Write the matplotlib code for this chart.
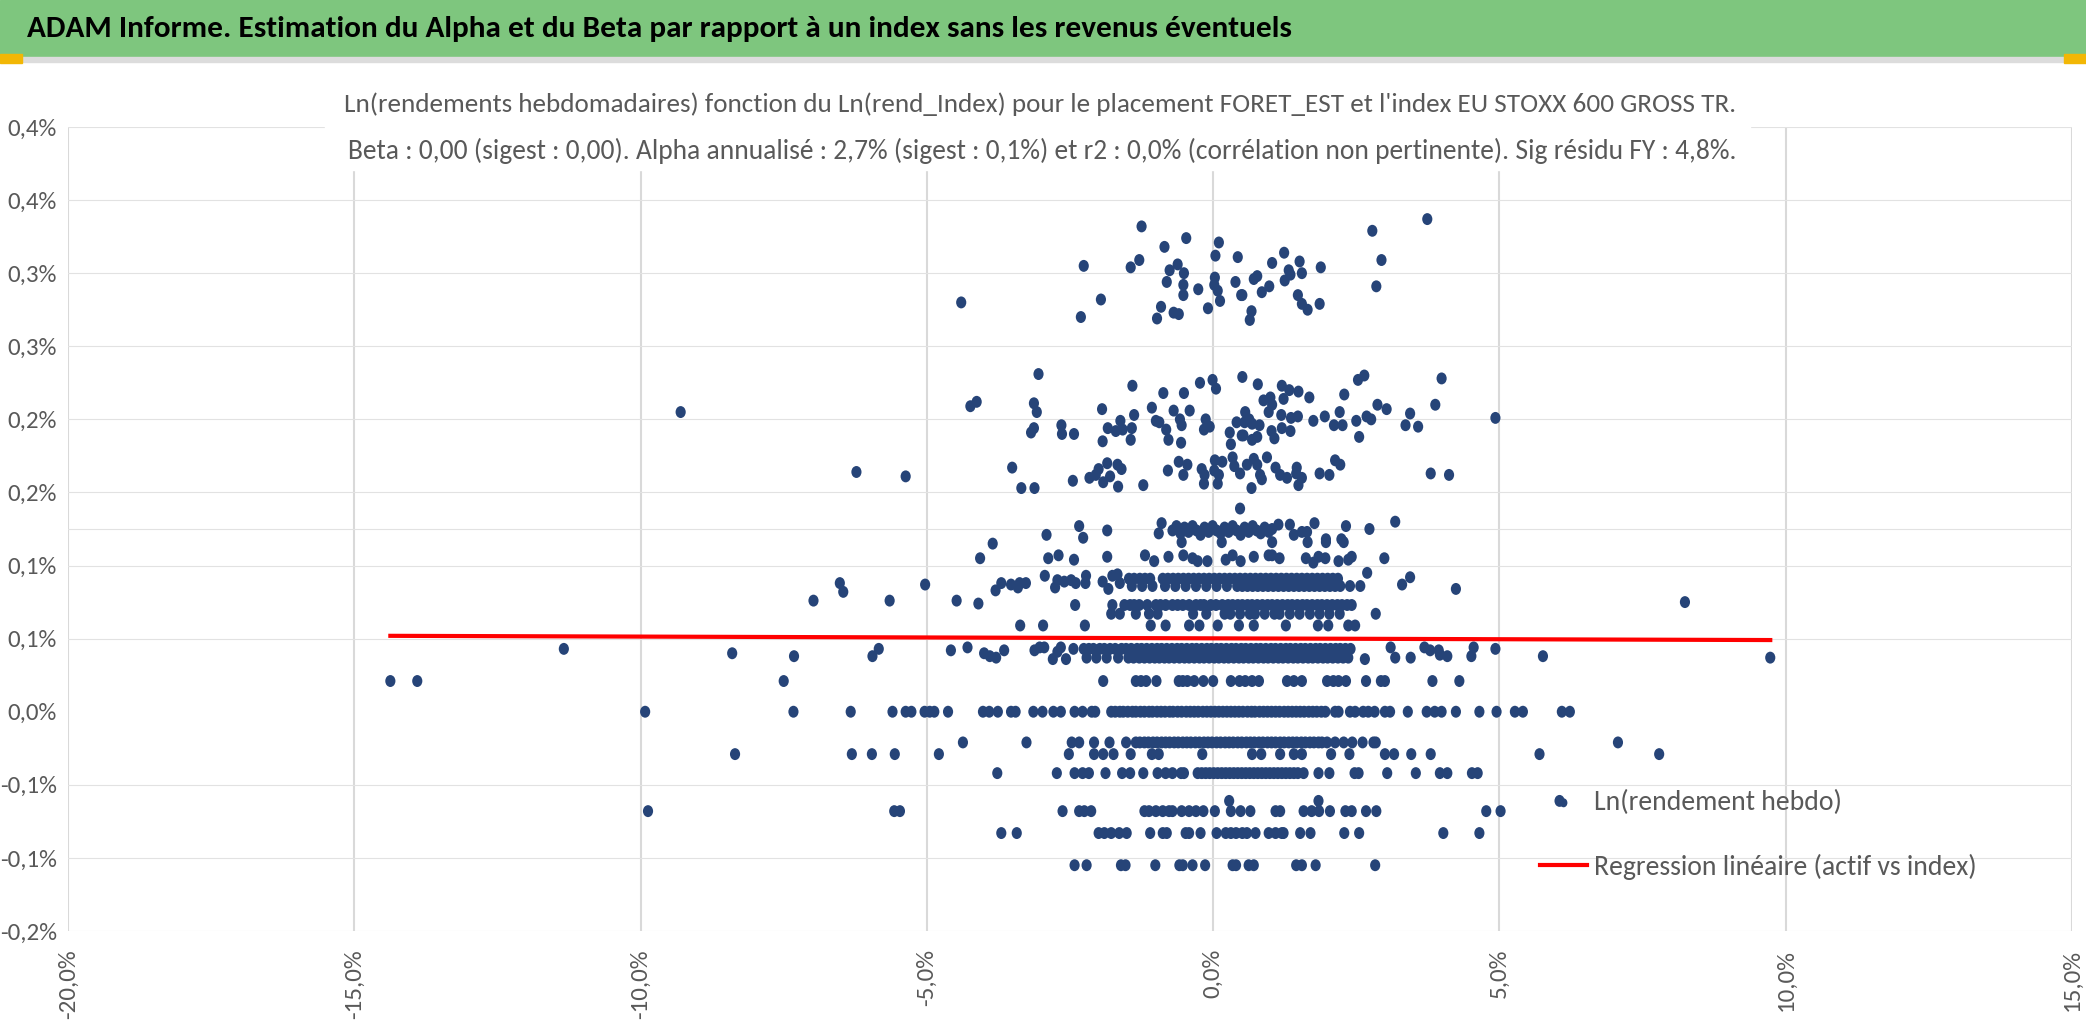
import matplotlib
matplotlib.use('Agg')
import matplotlib.pyplot as plt
from matplotlib import font_manager
from matplotlib.patches import Rectangle
from matplotlib.path import Path

W, H = 2086, 1035

# weekly ln returns (y, in %) against index returns (x, in %), read per row
row_000_x = [-9.92, -7.33, -6.33, -5.60, -5.37, -5.27, -5.04, -4.95, -4.87, -4.63, -4.02, -3.91,
             -3.76, -3.53, -3.45, -3.14, -2.98, -2.79, -2.66, -2.42, -2.28, -2.12, -2.06,
             -1.78, -1.71, -1.63, -1.57, -1.49, -1.41, -1.35, -1.27, -1.20, -1.12, -1.06, -0.98,
             -0.91, -0.84, -0.76, -0.70, -0.62, -0.55, -0.47, -0.40, -0.33, -0.26, -0.18, -0.11,
             -0.04, 0.03, 0.10, 0.17, 0.24, 0.31, 0.38, 0.45, 0.52, 0.60, 0.67, 0.73, 0.81, 0.88,
             0.95, 1.02, 1.09, 1.16, 1.24, 1.31, 1.38, 1.45, 1.52, 1.59, 1.67, 1.74, 1.81, 1.89,
             1.96, 2.13, 2.19, 2.39, 2.48, 2.62, 2.71, 2.82, 3.00, 3.09, 3.40, 3.73, 3.87, 3.99,
             4.24, 4.65, 4.95, 5.27, 5.41, 6.09, 6.23]

row_p021_x = [-14.37, -13.90, -7.50, -1.92, -1.35, -1.26, -1.17, -0.99, -0.60, -0.53, -0.45,
              -0.33, -0.17, 0.0, 0.31, 0.46, 0.56, 0.68, 0.80, 1.29, 1.41, 1.55, 1.99, 2.10, 2.19,
              2.32, 2.67, 2.93, 3.00, 3.83, 4.30]

row_p043_x = [-2.26, -2.17, -2.09, -1.98, -1.90, -1.80, -1.71, -1.60, -1.52, -1.43, -1.33, -1.25,
              -1.16, -1.07, -0.98, -0.90, -0.81, -0.72, -0.63, -0.55, -0.46, -0.37, -0.29, -0.20,
              -0.11, -0.03, 0.06, 0.14, 0.23, 0.32, 0.40, 0.49, 0.57, 0.66, 0.75, 0.83, 0.92, 1.01,
              1.09, 1.18, 1.27, 1.35, 1.44, 1.53, 1.61, 1.70, 1.79, 1.87, 1.96, 2.05, 2.14, 2.22,
              2.31, 2.40]
row_p037_x = [-2.21, -2.04, -1.86, -1.66, -1.48, -1.39, -1.29, -1.20, -1.11, -1.02, -0.94, -0.85,
              -0.77, -0.68, -0.59, -0.50, -0.42, -0.33, -0.24, -0.16, -0.07, 0.02, 0.10, 0.19,
              0.27, 0.36, 0.45, 0.53, 0.62, 0.70, 0.79, 0.88, 0.96, 1.05, 1.14, 1.22, 1.31, 1.40,
              1.48, 1.57, 1.66, 1.74, 1.83, 1.92, 2.00, 2.09, 2.18, 2.27, 2.36]
near_040_x = [-11.34, -8.40, -7.32, -5.95, -5.84, -4.58, -4.29, -4.00, -3.90, -3.79, -3.65, -3.12,
              -3.03, -2.95, -2.80, -2.72, -2.66, -2.57, -2.44, 2.65, 3.10, 3.18, 3.45, 3.69, 3.79,
              3.94, 3.96, 4.09, 4.51, 4.55, 4.93, 5.76, 9.73]
near_040_y = [0.043, 0.040, 0.038, 0.038, 0.043, 0.042, 0.044, 0.040, 0.038, 0.037, 0.042, 0.042,
              0.044, 0.044, 0.036, 0.041, 0.044, 0.036, 0.043, 0.036, 0.044, 0.037, 0.037, 0.044,
              0.042, 0.042, 0.039, 0.038, 0.038, 0.044, 0.043, 0.038, 0.037]

row_p059_x = [-3.37, -2.97, -2.24, -1.09, -0.83, -0.42, -0.24, 0.08, 0.45, 0.71, 1.27, 1.83, 2.01,
              2.36, 2.48]

row_p073_x = [-1.76, -1.55, -1.45, -1.38, -1.29, -1.15, -1.00, -0.92, -0.83, -0.71, -0.62, -0.53,
              -0.42, -0.30, -0.22, -0.16, -0.04, 0.05, 0.16, 0.26, 0.34, 0.43, 0.51, 0.60, 0.68,
              0.77, 0.86, 0.95, 1.03, 1.12, 1.21, 1.30, 1.38, 1.47, 1.56, 1.64, 1.73, 1.82, 1.90,
              1.99, 2.08, 2.17, 2.25, 2.34, 2.42]
row_p067_x = [-1.78, -1.63, -1.35, -1.12, -0.97, -0.35, -0.12, 0.20, 0.30, 0.47, 0.64, 0.73, 0.90,
              1.07, 1.16, 1.34, 1.51, 1.69, 1.86, 2.03, 2.21, 2.84]
near_075_x = [-6.98, -5.65, -4.48, -4.10, -2.41, 8.24]
near_075_y = [0.076, 0.076, 0.076, 0.074, 0.073, 0.075]

row_p091_x = [-1.47, -1.38, -1.28, -1.19, -1.10, -0.88, -0.79, -0.70, -0.61, -0.52, -0.43, -0.34,
              -0.25, -0.16, -0.07, 0.02, 0.11, 0.20, 0.29, 0.38, 0.47, 0.56, 0.65, 0.74, 0.83,
              0.92, 1.01, 1.10, 1.19, 1.28, 1.37, 1.46, 1.55, 1.64, 1.73, 1.82, 1.91, 2.00, 2.09,
              2.18]
row_p086_x = [-1.42, -1.24, -1.06, -0.84, -0.66, -0.48, -0.30, -0.12, 0.06, 0.24, 0.42, 0.51, 0.60,
              0.69, 0.78, 0.87, 0.96, 1.05, 1.14, 1.23, 1.32, 1.41, 1.50, 1.59, 1.68, 1.77, 1.86,
              1.95, 2.04, 2.13, 2.22]
near_088_x = [-6.52, -6.46, -5.03, -3.80, -3.70, -3.53, -3.41, -3.38, -3.27, -2.94, -2.76, -2.72,
              -2.60, -2.48, -2.40, -2.22, -2.23, -1.93, -1.83, -1.76, -1.67, -1.63, 2.39, 2.57,
              2.69, 3.30, 3.44, 4.24]
near_088_y = [0.088, 0.082, 0.087, 0.083, 0.088, 0.087, 0.085, 0.088, 0.088, 0.093, 0.085, 0.090,
              0.089, 0.090, 0.088, 0.093, 0.088, 0.089, 0.084, 0.093, 0.094, 0.088, 0.086, 0.086,
              0.095, 0.087, 0.092, 0.084]

near_105_x = [-4.07, -2.88, -2.70, -2.43, -1.85, -1.19, -1.03, -0.78, -0.52, -0.36, -0.27, -0.10,
              0.22, 0.34, 0.48, 0.71, 0.97, 1.03, 1.16, 1.62, 1.75, 1.84, 1.96, 2.19, 2.36, 2.42,
              2.99, -3.85, -0.55, 0.15, 1.03, 1.65, 1.97, 2.28]
near_105_y = [0.105, 0.105, 0.107, 0.104, 0.106, 0.107, 0.103, 0.106, 0.107, 0.105, 0.103, 0.103,
              0.104, 0.107, 0.103, 0.106, 0.107, 0.107, 0.105, 0.105, 0.102, 0.106, 0.105, 0.103,
              0.104, 0.106, 0.105, 0.115, 0.116, 0.116, 0.116, 0.116, 0.116, 0.116]

near_125_x = [-2.91, -2.34, -2.27, -1.85, -0.95, -0.90, 0.47, 1.14, 1.34, 1.41, 1.55, 1.64, 1.77,
              1.97, 2.24, 2.32, 2.73, 3.18,
              -0.71, -0.64, -0.57, -0.50, -0.43, -0.36, -0.29, -0.22, -0.15, -0.08, -0.01, 0.06,
              0.13, 0.20, 0.27, 0.34, 0.41, 0.48, 0.55, 0.62, 0.69, 0.76, 0.83, 0.90, 0.97, 1.03]
near_125_y = [0.121, 0.127, 0.119, 0.124, 0.122, 0.129, 0.139, 0.128, 0.128, 0.121, 0.123, 0.123,
              0.129, 0.118, 0.118, 0.127, 0.125, 0.130,
              0.124, 0.127, 0.122, 0.126, 0.123, 0.127, 0.124, 0.121, 0.126, 0.123, 0.127, 0.124,
              0.122, 0.126, 0.123, 0.127, 0.124, 0.121, 0.126, 0.123, 0.127, 0.124, 0.122, 0.126,
              0.123, 0.125]

band_165_x = [-6.23, -3.51, -3.35, -3.12, -5.37, -2.45, -2.16, -2.05, -2.00, -1.92, -1.85, -1.80,
              -1.67, -1.60, -1.66, -1.22, -0.79, -0.60, -0.45, -0.52, -0.20, -0.15, -0.16, 0.03,
              0.02, 0.10, 0.08, 0.34, 0.37, 0.47, 0.16, 0.59, 0.71, 0.77, 0.82, 0.85, 0.94, 1.09,
              1.17, 1.29, 1.46, 1.45, 1.55, 1.49, 0.67, 1.86, 2.03, 2.13, 2.22, 3.80, 4.12]
band_165_y = [0.164, 0.167, 0.153, 0.153, 0.161, 0.158, 0.160, 0.162, 0.166, 0.157, 0.170, 0.161,
              0.169, 0.166, 0.154, 0.155, 0.165, 0.171, 0.169, 0.162, 0.166, 0.162, 0.156, 0.172,
              0.165, 0.162, 0.156, 0.174, 0.168, 0.163, 0.171, 0.169, 0.173, 0.169, 0.162, 0.159,
              0.174, 0.167, 0.162, 0.160, 0.167, 0.163, 0.160, 0.155, 0.153, 0.163, 0.162, 0.172,
              0.169, 0.163, 0.162]

band_205_x = [-9.30, -3.05, -1.41, -0.23, -0.01, 0.05, 0.51, -0.87, -0.51, -4.24, -4.13, -3.13,
              -3.08, -1.94, -1.38, -1.07, -0.69, -0.41, -1.62, -1.00, -0.94, -0.58, -0.55, -0.13,
              -0.16, -0.06, 0.41, -2.65, -2.64, -2.43, -3.18, -3.13, -1.84, -1.70, -1.58, -1.42,
              -0.82, -1.44, -1.93, -0.78, -0.56, 0.29, 0.31, 0.50, 0.78, 1.20, 1.33, 1.49, 1.68,
              0.88, 1.00, 1.03, 0.97, 1.23, 2.29, 2.53, 2.64, 3.99, 3.88, 2.87, 3.03, 3.44, 3.36,
              3.58, 4.93, 0.56, 0.63, 0.55, 0.68, 0.81, 0.53, 0.68, 0.77, 1.02, 1.07, 1.20, 1.19,
              1.35, 1.36, 1.48, 1.75, 1.95, 2.11, 2.26, 2.21, 2.50, 2.55, 2.68, 2.76]
band_205_y = [0.205, 0.231, 0.223, 0.225, 0.227, 0.221, 0.229, 0.218, 0.218, 0.209, 0.212, 0.211,
              0.205, 0.207, 0.203, 0.208, 0.206, 0.206, 0.199, 0.199, 0.198, 0.200, 0.196, 0.200,
              0.193, 0.195, 0.198, 0.196, 0.190, 0.190, 0.191, 0.194, 0.194, 0.192, 0.193, 0.194,
              0.193, 0.186, 0.185, 0.186, 0.184, 0.191, 0.183, 0.189, 0.224, 0.223, 0.220, 0.219,
              0.215, 0.213, 0.215, 0.210, 0.205, 0.214, 0.217, 0.227, 0.230, 0.228, 0.210, 0.210,
              0.207, 0.204, 0.196, 0.195, 0.201, 0.205, 0.200, 0.198, 0.197, 0.196, 0.189, 0.186,
              0.188, 0.192, 0.187, 0.194, 0.203, 0.192, 0.201, 0.202, 0.199, 0.202, 0.196, 0.196,
              0.205, 0.199, 0.188, 0.202, 0.200]

band_300_x = [-1.25, -0.47, 0.10, -0.85, 0.04, 0.43, -1.29, -1.44, -2.26, -0.62, -0.76, -0.51,
              0.03, -0.81, 0.39, -0.52, 0.02, 0.08, -0.26, -0.52, 0.49, 0.12, -4.40, -1.96, -0.91,
              -0.09, -0.69, -0.60, -2.31, -0.98, 3.74, 2.78, 2.94, 2.85, 1.24, 1.03, 1.51, 1.32,
              1.35, 1.55, 1.88, 0.71, 0.77, 0.51, 0.85, 0.98, 1.25, 1.48, 1.55, 1.65, 1.86, 0.67,
              0.64]
band_300_y = [0.332, 0.324, 0.321, 0.318, 0.312, 0.311, 0.309, 0.304, 0.305, 0.306, 0.302, 0.300,
              0.297, 0.294, 0.294, 0.292, 0.292, 0.288, 0.289, 0.285, 0.285, 0.281, 0.280, 0.282,
              0.277, 0.276, 0.273, 0.272, 0.270, 0.269, 0.337, 0.329, 0.309, 0.291, 0.314, 0.307,
              0.308, 0.302, 0.299, 0.300, 0.304, 0.296, 0.298, 0.285, 0.287, 0.291, 0.295, 0.285,
              0.279, 0.275, 0.279, 0.274, 0.268]

row_m021_x = [-4.37, -3.26, -2.47, -2.34, -2.08, -1.81, -1.52, -1.35, -1.28, -1.20, -1.13, -1.05,
              -0.98, -0.90, -0.83, -0.76, -0.68, -0.61, -0.53, -0.46, -0.39, -0.31, -0.24, -0.16,
              -0.09, -0.02, 0.06, 0.13, 0.21, 0.28, 0.35, 0.43, 0.50, 0.58, 0.65, 0.72, 0.80, 0.87,
              0.95, 1.02, 1.09, 1.17, 1.24, 1.32, 1.39, 1.46, 1.54, 1.61, 1.69, 1.76, 1.84, 1.90,
              1.99, 2.13, 2.28, 2.43, 2.61, 2.80, 2.84, 7.07]
row_m029_x = [-8.35, -6.31, -5.96, -5.56, -4.79, -2.52, -2.08, -1.92, -1.74, -1.44, -1.07, -0.95,
              -0.19, 0.68, 0.84, 1.17, 1.41, 1.55, 2.06, 2.38, 3.00, 3.16, 3.46, 3.80, 5.70, 7.79]
row_m042_x = [-3.77, -2.73, -2.42, -2.28, -2.17, -1.88, -1.59, -1.45, -1.22, -0.97, -0.83, -0.71,
              -0.56, -0.51, -0.27, -0.20, -0.13, -0.06, 0.01, 0.08, 0.15, 0.22, 0.29, 0.36, 0.43,
              0.50, 0.57, 0.64, 0.71, 0.78, 0.85, 0.92, 0.99, 1.06, 1.13, 1.20, 1.27, 1.34, 1.41,
              1.48, 1.58, 1.84, 2.03, 2.47, 2.54, 3.04, 3.54, 3.96, 4.09, 4.52, 4.62]
row_m061_x = [0.28, 1.84, 6.05]
row_m068_x = [-9.87, -5.57, -5.47, -2.63, -2.34, -2.25, -2.13, -1.20, -1.12, -1.00, -0.88, -0.77,
              -0.71, -0.55, -0.42, -0.30, -0.17, 0.03, 0.31, 0.48, 0.65, 1.09, 1.17, 1.58, 1.72,
              1.85, 2.04, 2.31, 2.42, 2.67, 2.85, 4.77, 5.02]
row_m083_x = [-3.70, -3.43, -2.00, -1.90, -1.78, -1.64, -1.51, -1.10, -0.88, -0.81, -0.48, -0.42,
              -0.22, 0.06, 0.22, 0.31, 0.40, 0.51, 0.59, 0.74, 0.97, 1.09, 1.20, 1.23, 1.52, 1.70,
              2.29, 2.55, 4.02, 4.65]
row_m105_x = [-2.42, -2.21, -1.61, -1.53, -1.01, -0.59, -0.53, -0.36, -0.14, 0.34, 0.40, 0.62,
              0.71, 1.45, 1.55, 1.79, 2.83]

# regression line (actif vs index), in %
reg_alpha = 0.0502
reg_beta = -0.00012

xticks = [-20, -15, -10, -5, 0, 5, 10, 15]
xtick_labels = ['-20,0%', '-15,0%', '-10,0%', '-5,0%', '0,0%', '5,0%', '10,0%', '15,0%']
yticks = [-0.15, -0.10, -0.05, 0.0, 0.05, 0.10, 0.15, 0.20, 0.25, 0.30, 0.35, 0.40]
ytick_labels = ['-0,2%', '-0,1%', '-0,1%', '0,0%', '0,1%', '0,1%', '0,2%', '0,2%',
                '0,3%', '0,3%', '0,4%', '0,4%']

header = ("ADAM Informe. Estimation du Alpha et du Beta par rapport à un index "
          "sans les revenus éventuels")
title1 = ("Ln(rendements hebdomadaires) fonction du Ln(rend_Index) pour le placement "
          "FORET_EST et l'index EU STOXX 600 GROSS TR.")
title2 = ("Beta : 0,00 (sigest : 0,00). Alpha annualisé : 2,7% (sigest : 0,1%) et r2 : 0,0% "
          "(corrélation non pertinente). Sig résidu FY : 4,8%.")


def pick_font(cands):
    names = {f.name for f in font_manager.fontManager.ttflist}
    for c in cands:
        if c in names:
            return c
    return 'DejaVu Sans'


plt.rcParams['font.family'] = [pick_font(['Carlito', 'Lato', 'Open Sans']), 'DejaVu Sans']

# collect all points
xs, ys = [], []
for xl, yv in [(row_000_x, 0.0), (row_p021_x, 0.021), (row_p043_x, 0.043), (row_p037_x, 0.037),
               (row_p059_x, 0.059), (row_p073_x, 0.073), (row_p067_x, 0.067),
               (row_p091_x, 0.091), (row_p086_x, 0.086), (row_m021_x, -0.021),
               (row_m029_x, -0.029), (row_m042_x, -0.042), (row_m061_x, -0.061),
               (row_m068_x, -0.068), (row_m083_x, -0.083), (row_m105_x, -0.105)]:
    xs += xl
    ys += [yv] * len(xl)
for xl, yl in [(near_040_x, near_040_y), (near_075_x, near_075_y), (near_088_x, near_088_y),
               (near_105_x, near_105_y), (near_125_x, near_125_y), (band_165_x, band_165_y),
               (band_205_x, band_205_y), (band_300_x, band_300_y)]:
    xs += xl
    ys += yl

fig = plt.figure(figsize=(W / 100, H / 100), dpi=100)
ax = fig.add_axes([68 / W, 1 - 931 / H, (2072 - 68) / W, (931 - 127) / H])
ax.set_xlim(-20, 15)
ax.set_ylim(-0.15, 0.40)

grid = '#d9d9d9'
for xv in xticks:
    ax.axvline(xv, color=grid, lw=1.5, zorder=0)
for yv in yticks + [0.125]:
    if yv != 0.0:
        ax.axhline(yv, color='#e2e2e2', lw=0.8, zorder=0)
for s in ax.spines.values():
    s.set_visible(False)

circ = Path.unit_circle()
dot = Path(circ.vertices * [0.85, 1.0], circ.codes)
ax.scatter(xs, ys, s=74, marker=dot, color='#264478', edgecolors='none', zorder=3,
           label='Ln(rendement hebdo)')

x0, x1 = min(xs), max(xs)
ax.plot([x0, x1], [reg_alpha + reg_beta * x0, reg_alpha + reg_beta * x1], color='#ff0000',
        lw=3, zorder=4, label='Regression linéaire (actif vs index)')

ax.set_xticks(xticks)
ax.set_xticklabels(xtick_labels, rotation=90)
ax.set_yticks(yticks)
ax.set_yticklabels(ytick_labels)
ax.tick_params(length=0, colors='#595959', labelsize=18)
ax.tick_params(axis='x', pad=13)
ax.tick_params(axis='y', pad=8)

ax.legend(loc='upper left', bbox_to_anchor=(1515 / W, 1 - 765 / H), scatterpoints=1,
          markerscale=0.75, bbox_transform=fig.transFigure, frameon=False, fontsize=20,
          labelcolor='#595959', handlelength=1.7, handletextpad=0.25, labelspacing=1.4)

# green header, chart title box and small handles
fig.patches.append(Rectangle((0, 1 - 56 / H), 1, 56 / H, transform=fig.transFigure,
                             color='#7ec67e', zorder=2))
fig.patches.append(Rectangle((0, 1 - 62 / H), 1, 5 / H, transform=fig.transFigure,
                             color='#dcdcdc', zorder=2))
fig.patches.append(Rectangle((0, 1 - 63 / H), 22 / W, 9 / H, transform=fig.transFigure,
                             color='#f2b705', zorder=3))
fig.patches.append(Rectangle(((W - 22) / W, 1 - 63 / H), 22 / W, 9 / H,
                             transform=fig.transFigure, color='#f2b705', zorder=3))
fig.patches.append(Rectangle((325 / W, 1 - 170 / H), 1425 / W, 86 / H,
                             transform=fig.transFigure, color='white', zorder=2))
fig.text(27 / W, 1 - 29 / H, header, fontsize=22.5, fontweight='bold', color='black',
         va='center', ha='left')
fig.text(1040 / W, 1 - 104 / H, title1, fontsize=19.5, color='#595959', va='center', ha='center')
fig.text(1042 / W, 1 - 151 / H, title2, fontsize=19.8, color='#595959', va='center', ha='center')

fig.savefig('out.png', dpi=100)
